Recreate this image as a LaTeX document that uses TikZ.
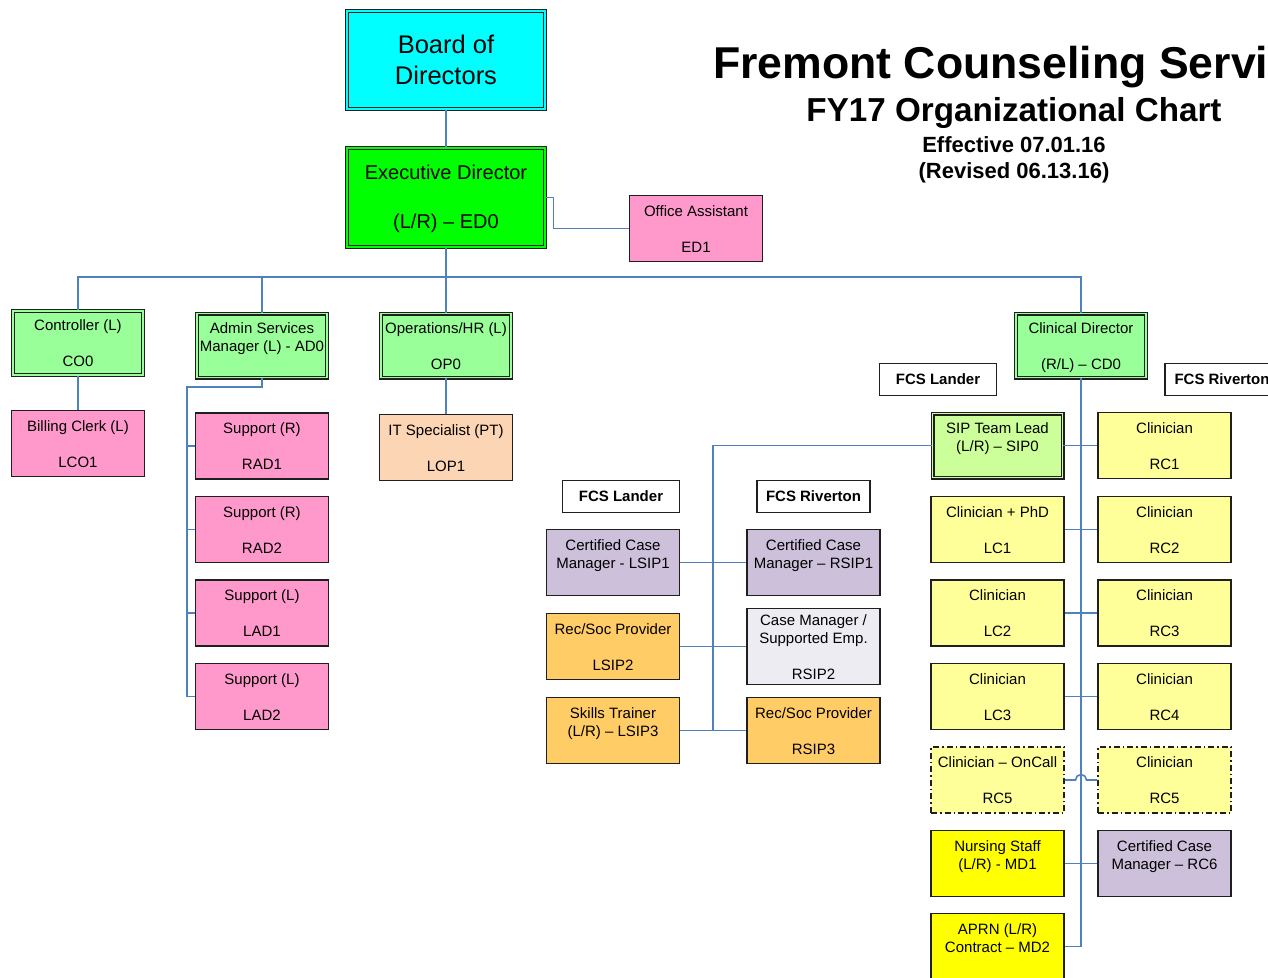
\documentclass[tikz,border=0pt]{standalone}
\usepackage{fontspec}
\setmainfont{Liberation Sans}
\usetikzlibrary{calc}
\definecolor{lineblue}{HTML}{4F81BD}
\definecolor{cyanfill}{HTML}{00FFFF}
\definecolor{greenfill}{HTML}{00FF00}
\definecolor{lgreen}{HTML}{99FF99}
\definecolor{sipgreen}{HTML}{CCFF99}
\definecolor{pinkfill}{HTML}{FF99CC}
\definecolor{peach}{HTML}{FCD5B5}
\definecolor{lav}{HTML}{CCC0DA}
\definecolor{orangefill}{HTML}{FFCC66}
\definecolor{lightlav}{HTML}{EEECF3}
\definecolor{lyellow}{HTML}{FFFF99}
\definecolor{yellowfill}{HTML}{FFFF00}
\definecolor{edge}{HTML}{1F1F1F}
\newcommand\topstrut{\rule{0pt}{\dimexpr 0.7\baselineskip+4pt\relax}}
\newcommand\boxtext[3]{\topstrut #1\\\strut #2\\\strut #3}
\tikzset{
  bx/.style={draw=edge, line width=1.3pt, fill=#1, minimum width=133pt, minimum height=66pt,
    inner sep=0pt, align=center, font=\fontsize{15}{18}\selectfont},
  dbx/.style={draw=edge, line width=1.1pt, double=#1, double distance=1.8pt, fill=#1,
    minimum width=130pt, minimum height=64pt, inner sep=0pt, align=center,
    font=\fontsize{15}{18}\selectfont},
  lbl/.style={draw=edge, line width=1.3pt, fill=white, minimum width=117pt, minimum height=32pt,
    inner sep=0pt, font=\bfseries\fontsize{15}{18}\selectfont},
  conn/.style={draw=lineblue, line width=1.6pt},
  dashdotbox/.style={dash pattern=on 6pt off 3pt on 1.5pt off 3pt, line width=1.5pt},
  ttl/.style={inner sep=0pt, font=\bfseries\fontsize{#1}{#1}\selectfont}
}
\begin{document}
\begin{tikzpicture}[x=1pt,y=-1pt]
\useasboundingbox (0,0) rectangle (1268,977);
\clip (0,0) rectangle (1268,977);

% titles
\node[ttl=44.6, anchor=base west] (t1) at (713,78) {Fremont Counseling Servi};
\node[ttl=33.2, anchor=base] (t2) at (1014,121) {FY17 Organizational Chart};
\node[ttl=22, anchor=base] (t3) at (1014,152) {Effective 07.01.16};
\node[ttl=22, anchor=base] (t4) at (1014,178) {(Revised 06.13.16)};

% top
\node[dbx=cyanfill, minimum width=198pt, minimum height=98pt,
  font=\fontsize{25.5}{31}\selectfont] (bod) at (446,60) {\rule{0pt}{\dimexpr 0.7\baselineskip+6pt\relax}Board of\\\strut Directors};
\node[dbx=greenfill, minimum width=198pt, minimum height=99pt,
  font=\fontsize{20}{24.5}\selectfont] (ed) at (446,197.5) {\boxtext{Executive Director}{}{(L/R) – ED0}};
\node[bx=pinkfill] (oa) at (696,228.5) {\boxtext{Office Assistant}{}{ED1}};

% second level
\node[dbx=lgreen] (co) at (78,343) {\boxtext{Controller (L)}{}{CO0}};
\node[dbx=lgreen] (ad) at (262,345.5) {\boxtext{Admin Services}{Manager (L) - AD0}{}};
\node[dbx=lgreen] (op) at (446,345.5) {\boxtext{Operations/HR (L)}{}{OP0}};
\node[dbx=lgreen] (cd) at (1081,345.5) {\boxtext{Clinical Director}{}{(R/L) – CD0}};

\node[bx=pinkfill] (bc) at (78,443.5) {\boxtext{Billing Clerk (L)}{}{LCO1}};
\node[bx=pinkfill] (rad1) at (262,446) {\boxtext{Support (R)}{}{RAD1}};
\node[bx=pinkfill] (rad2) at (262,529.5) {\boxtext{Support (R)}{}{RAD2}};
\node[bx=pinkfill] (lad1) at (262,613) {\boxtext{Support (L)}{}{LAD1}};
\node[bx=pinkfill] (lad2) at (262,696.5) {\boxtext{Support (L)}{}{LAD2}};
\node[bx=peach] (it) at (446,447.5) {\boxtext{IT Specialist (PT)}{}{LOP1}};

% middle SIP group
\node[lbl] (llab) at (621,496.5) {FCS Lander};
\node[lbl, minimum width=113pt] (rlab) at (813.5,496.5) {FCS Riverton};
\node[bx=lav] (lsip1) at (613,562.5) {\boxtext{Certified Case}{Manager - LSIP1}{}};
\node[bx=lav] (rsip1) at (813.5,562.5) {\boxtext{Certified Case}{Manager – RSIP1}{}};
\node[bx=orangefill] (lsip2) at (613,646.5) {\boxtext{Rec/Soc Provider}{}{LSIP2}};
\node[bx=lightlav] (rsip2) at (813.5,646.5) {\topstrut Case Manager /\\\strut Supported Emp.\\\strut\\\strut RSIP2};
\node[bx=orangefill] (lsip3) at (613,730.5) {\boxtext{Skills Trainer}{(L/R) – LSIP3}{}};
\node[bx=orangefill] (rsip3) at (813.5,730.5) {\boxtext{Rec/Soc Provider}{}{RSIP3}};

% right clinical group
\node[lbl] (rllab) at (938,379.5) {FCS Lander};
\node[lbl, minimum width=114pt] (rrlab) at (1222,379.5) {FCS Riverton};
\node[dbx=sipgreen] (sip) at (997.5,445.5) {\boxtext{SIP Team Lead}{(L/R) – SIP0}{}};
\node[bx=lyellow] (rc1) at (1164.5,445.5) {\boxtext{Clinician}{}{RC1}};
\node[bx=lyellow] (lc1) at (997.5,529.5) {\boxtext{Clinician + PhD}{}{LC1}};
\node[bx=lyellow] (rc2) at (1164.5,529.5) {\boxtext{Clinician}{}{RC2}};
\node[bx=lyellow] (lc2) at (997.5,613) {\boxtext{Clinician}{}{LC2}};
\node[bx=lyellow] (rc3) at (1164.5,613) {\boxtext{Clinician}{}{RC3}};
\node[bx=lyellow] (lc3) at (997.5,696.5) {\boxtext{Clinician}{}{LC3}};
\node[bx=lyellow] (rc4) at (1164.5,696.5) {\boxtext{Clinician}{}{RC4}};
\node[bx=lyellow, dashdotbox] (lc5) at (997.5,780) {\boxtext{Clinician – OnCall}{}{RC5}};
\node[bx=lyellow, dashdotbox] (rc5) at (1164.5,780) {\boxtext{Clinician}{}{RC5}};
\node[bx=yellowfill] (md1) at (997.5,863.5) {\boxtext{Nursing Staff}{(L/R) - MD1}{}};
\node[bx=lav] (rc6) at (1164.5,863.5) {\boxtext{Certified Case}{Manager – RC6}{}};
\node[bx=yellowfill] (md2) at (997.5,946.5) {\boxtext{APRN (L/R)}{Contract – MD2}{}};

% connectors
\coordinate (bus) at (446,277);
\coordinate (adj) at (187,387);
\coordinate (mj) at (713,445.5);
\draw[conn] (bod.south) -- (ed.north);
\draw[conn] (ed.south) -- (op.north);
\draw[conn] (co.north) |- (bus) -| (cd.north);
\draw[conn] (ad.north) -- (ad.north |- bus);
\draw[conn] (ed.east) -- ++(8,0) |- (oa.west);
\draw[conn] (co.south) -- (bc.north);
\draw[conn] (op.south) -- (it.north);
\draw[conn] (ad.south) |- (adj) |- (lad2.west);
\foreach \n in {rad1,rad2,lad1} \draw[conn] (adj |- \n.west) -- (\n.west);
\draw[conn] (cd.south) |- (md2.east);
\draw[conn] (sip.east) -- (rc1.west);
\draw[conn] (lc1.east) -- (rc2.west);
\draw[conn] (lc2.east) -- (rc3.west);
\draw[conn] (lc3.east) -- (rc4.west);
\draw[conn] (md1.east) -- (rc6.west);
\draw[conn] (lc5.east) -- ($(cd.south |- lc5.east)+(-5.5,0)$)
  arc[start angle=180, end angle=0, radius=5.5pt] -- (rc5.west);
\draw[conn] (sip.west) -- (mj) |- (lsip3.east);
\draw[conn] (lsip1.east) -- (rsip1.west);
\draw[conn] (lsip2.east) -- (rsip2.west);
\draw[conn] (lsip3.east) -- (rsip3.west);
\end{tikzpicture}
\end{document}
